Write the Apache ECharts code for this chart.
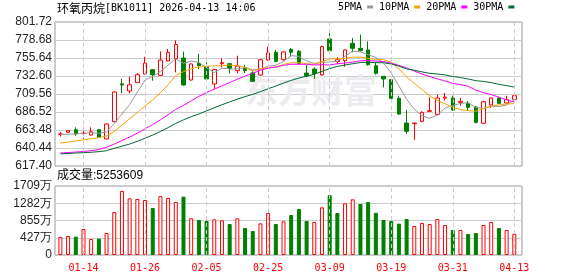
<!DOCTYPE html>
<html><head><meta charset="utf-8">
<script src="https://cdn.jsdelivr.net/npm/echarts@6/dist/echarts.min.js"></script>
<style>html,body{margin:0;padding:0;background:#fff}#c{width:578px;height:276px}</style>
</head><body><div id="c"></div>
<script>
const titleName = '环氧丙烷';
const titleInfo = '[BK1011] 2026-04-13 14:06';
const volumeText = '成交量:5253609';
const maNames = ['5PMA', '10PMA', '20PMA', '30PMA'];

const dates = ['01-09','01-12','01-13','01-14','01-15','01-16','01-19','01-20','01-21','01-22',
 '01-23','01-26','01-27','01-28','01-29','01-30','02-02','02-03','02-04','02-05',
 '02-06','02-09','02-10','02-11','02-12','02-13','02-24','02-25','02-26','02-27',
 '03-02','03-03','03-04','03-05','03-06','03-09','03-10','03-11','03-12','03-13',
 '03-16','03-17','03-18','03-19','03-20','03-23','03-24','03-25','03-26','03-27',
 '03-30','03-31','04-01','04-02','04-03','04-07','04-08','04-09','04-10','04-13'];

const opens = [657.9,660.5,663.9,658.8,657.1,663.9,652.0,674.1,722.6,713.4,
 724.1,735.2,740.7,733.4,751.8,754.8,755.6,727.5,748.8,744.5,
 722.4,748.4,748.4,739.4,743.3,736.4,733.9,753.1,762.9,753.5,
 766.5,764.2,736.4,741.6,733.9,780.0,751.0,752.2,774.4,768.0,
 765.9,745.8,732.2,727.9,704.0,672.4,671.6,674.6,687.4,683.5,
 704.4,704.4,698.9,697.6,692.9,672.0,695.5,704.0,698.1,702.7];
const closes = [658.4,662.6,658.4,659.5,661.3,654.5,671.2,712.1,721.0,721.4,
 734.3,749.2,734.3,753.0,762.9,772.9,721.1,748.0,745.8,728.8,
 741.1,749.7,742.4,745.4,739.4,725.8,753.5,762.0,751.4,763.5,
 763.0,748.8,733.0,735.8,770.1,765.0,753.5,765.9,768.0,765.0,
 747.1,736.0,728.8,704.0,683.9,661.8,672.4,686.1,688.2,704.4,
 705.7,689.1,700.2,692.5,673.3,699.7,704.4,697.6,702.3,707.4];
const lows = [655.0,660.0,656.2,652.0,656.2,654.1,651.5,673.3,710.8,710.4,
 723.6,734.7,726.6,733.0,751.4,737.3,720.2,726.6,741.6,727.9,
 715.9,743.7,736.0,736.0,736.4,725.3,733.0,752.2,750.1,752.2,
 757.3,748.0,730.9,728.8,733.0,764.2,747.5,744.5,762.9,764.2,
 745.8,734.3,718.1,703.1,683.1,658.4,651.0,673.3,687.0,682.7,
 701.0,688.2,694.6,688.2,672.0,671.2,691.6,696.8,697.6,701.9];
const highs = [660.9,663.0,666.9,667.7,666.9,664.7,672.0,713.0,728.8,731.7,
 736.4,757.3,741.6,764.2,767.2,778.2,763.8,748.8,760.8,750.1,
 741.6,755.2,748.8,758.6,747.1,739.4,754.4,770.1,765.9,764.2,
 768.5,765.9,746.7,743.7,771.4,787.5,756.5,766.7,781.2,785.5,
 777.0,750.1,732.6,728.8,707.4,689.1,672.8,687.4,705.3,708.7,
 710.8,707.4,704.4,700.6,694.2,701.0,705.3,706.1,707.4,708.7];

// volume in 万
const volumes = [446,470,454,644,396,405,545,1065,1585,1403,
 1387,1362,1164,1461,1412,1313,1445,910,867,842,
 883,859,768,908,669,594,784,1040,768,834,
 991,1139,842,817,1181,1486,1040,1280,1379,1263,
 1313,1044,867,842,776,892,718,793,768,892,
 743,619,619,520,545,743,817,669,619,525.36];

const ma5 = [657.5,658.0,658.5,659.3,660.0,659.3,661.0,671.7,684.0,696.0,
 712.0,727.6,732.0,738.4,746.7,754.5,748.8,751.6,750.1,743.3,
 737.0,742.7,741.6,741.5,743.6,740.5,741.3,745.2,746.4,751.2,
 758.7,757.7,751.9,748.8,750.1,750.5,751.5,758.1,764.5,763.5,
 759.9,756.4,749.0,736.2,720.0,702.9,690.2,681.6,678.5,682.6,
 691.4,694.7,697.5,698.4,692.2,691.0,694.0,693.5,695.5,702.3];
const ma10 = [646.8,648.0,649.5,651.0,652.3,653.6,656.0,661.5,670.0,678.0,
 685.6,694.3,701.9,711.2,721.4,733.2,738.2,741.8,744.3,745.0,
 745.7,745.8,746.6,745.8,743.5,738.8,742.0,743.4,744.0,747.4,
 749.6,749.5,748.6,747.6,750.7,754.6,754.6,755.0,756.7,756.8,
 755.2,753.9,753.5,750.3,741.7,731.4,723.3,715.3,707.3,701.3,
 697.1,692.4,689.6,688.4,687.4,691.2,694.4,695.5,696.9,697.2];
const ma20 = [634.0,634.6,635.3,636.0,637.0,638.5,641.5,645.5,650.0,654.5,
 659.5,665.0,670.5,676.5,683.0,690.0,695.0,700.8,706.6,711.5,
 715.7,720.0,724.2,728.5,732.4,736.0,740.1,742.6,744.1,746.2,
 747.7,747.6,747.6,746.7,747.1,746.7,748.3,749.2,750.3,752.1,
 752.4,751.7,751.1,749.0,746.2,743.0,739.0,735.2,732.0,729.0,
 726.2,723.2,721.6,719.4,714.5,711.3,708.8,705.4,702.1,699.2];
const ma30 = [633.0,633.5,634.0,634.5,635.0,635.8,637.0,640.0,642.8,645.5,
 649.0,653.0,657.0,661.5,666.5,672.0,676.5,680.5,684.0,688.0,
 692.0,695.8,699.5,703.0,706.2,709.2,712.6,716.3,719.8,723.5,
 727.0,729.9,732.3,734.9,738.5,742.2,744.9,746.7,748.3,749.8,
 750.2,749.7,749.6,747.9,745.3,741.6,740.0,737.9,736.0,735.2,
 734.0,732.0,730.6,728.8,726.6,725.7,724.1,721.9,720.3,718.4];

const priceTicks = ['617.40','640.44','663.48','686.52','709.56','732.60','755.64','778.68','801.72'];
const volTicks = ['0','427万','855万','1282万','1709万'];
const dateTicks = ['01-14','01-26','02-05','02-25','03-09','03-19','03-31','04-13'];

const UP = '#ff0000', DOWN = '#008000';
const maColors = ['#999999', '#f5a300', '#ff00ff', '#006b33'];

const candleData = dates.map((d, i) => [opens[i], closes[i], lows[i], highs[i]]);
const volData = volumes.map((v, i) => {
  const up = i === 0 || closes[i] >= closes[i - 1];
  return { value: v, itemStyle: up
    ? { color: '#ffffff', borderColor: UP, borderWidth: 1, borderType: 'solid', opacity: 1, decal: null }
    : { color: DOWN, borderColor: DOWN, borderWidth: 1, borderType: 'solid', opacity: 1, decal: null } };
});

const chart = echarts.init(document.getElementById('c'), null, { renderer: 'canvas' });
const dash = { color: '#cccccc', type: [4, 3], width: 1 };
const labelFont = { fontFamily: 'Liberation Sans, Arial', fontSize: 12, color: '#222' };

const option = {
  animation: false,
  backgroundColor: '#fff',
  aria: { enabled: false, decal: { show: false } },
  legend: {
    left: 338, top: 2, padding: 0, align: 'right', icon: 'rect',
    itemWidth: 6, itemHeight: 3, itemGap: 6, selectedMode: false,
    data: maNames,
    textStyle: { fontFamily: 'DejaVu Sans Mono', fontSize: 10, color: '#000' }
  },
  graphic: [
    { type: 'text', left: 57, top: 2, silent: true,
      style: { text: '{a|' + titleName + '}{b|' + titleInfo + '}',
        rich: { a: { fontFamily: 'Noto Sans CJK SC', fontSize: 12, fill: '#000' },
                b: { fontFamily: 'DejaVu Sans Mono', fontSize: 10, fill: '#000' } } } },
    { type: 'text', left: 57, top: 170, silent: true,
      style: { text: volumeText, fontFamily: 'Liberation Sans, Noto Sans CJK SC', fontSize: 12, fill: '#000' } },
    { type: 'text', left: 245, top: 74, z: 1, silent: true,
      style: { text: '东方财富', fontFamily: 'Noto Sans CJK SC', fontWeight: 'bold', fontSize: 33, fill: '#ececf0' } }
  ],
  grid: [
    { left: 55, top: 22, width: 467, height: 144, show: true, borderColor: '#999', borderWidth: 1, backgroundColor: 'transparent', outerBoundsMode: 'none' },
    { left: 56.55, top: 22, width: 461.6, height: 144, outerBoundsMode: 'none' },
    { left: 55, top: 186, width: 467, height: 69, show: true, borderColor: '#999', borderWidth: 1, backgroundColor: 'transparent', outerBoundsMode: 'none' },
    { left: 56.55, top: 186, width: 461.6, height: 69, outerBoundsMode: 'none' }
  ],
  xAxis: [
    { gridIndex: 0, type: 'category', data: dates, show: false },
    { gridIndex: 1, type: 'category', data: dates, show: false, boundaryGap: true },
    { gridIndex: 2, type: 'category', data: dates, show: false },
    { gridIndex: 3, type: 'category', data: dates, boundaryGap: true,
      axisLine: { show: false }, axisTick: { show: false }, splitLine: { show: false },
      axisLabel: { interval: (i, v) => dateTicks.includes(v), color: '#ff0000', fontFamily: 'DejaVu Sans Mono', fontSize: 10, margin: 8, hideOverlap: false } }
  ],
  yAxis: [
    { gridIndex: 0, type: 'value', min: 0, max: 8, interval: 1,
      axisLine: { show: false }, axisTick: { show: false },
      axisLabel: Object.assign({ formatter: v => priceTicks[v], margin: 3 }, labelFont),
      splitLine: { lineStyle: { color: '#cccccc', width: 1 } } },
    { gridIndex: 1, type: 'value', min: 617.40, max: 801.72, show: false, splitLine: { show: false } },
    { gridIndex: 2, type: 'value', min: 0, max: 4, interval: 1,
      axisLine: { show: false }, axisTick: { show: false },
      axisLabel: Object.assign({ formatter: v => volTicks[v], margin: 3 }, labelFont),
      splitLine: { lineStyle: { color: '#cccccc', width: 1 } } },
    { gridIndex: 3, type: 'value', min: 0, max: 1709, show: false, splitLine: { show: false } }
  ],
  series: [
    { type: 'line', xAxisIndex: 1, yAxisIndex: 1, data: [], z: 1, silent: true,
      markLine: { symbol: 'none', silent: true, animation: false, label: { show: false }, lineStyle: dash,
        data: dateTicks.map(d => ({ xAxis: d })) } },
    { type: 'line', xAxisIndex: 3, yAxisIndex: 3, data: [], z: 1, silent: true,
      markLine: { symbol: 'none', silent: true, animation: false, label: { show: false }, lineStyle: dash,
        data: dateTicks.map(d => ({ xAxis: d })) } },
    { type: 'candlestick', xAxisIndex: 1, yAxisIndex: 1, data: candleData, barWidth: 4,
      itemStyle: { color: '#fff', color0: DOWN, borderColor: UP, borderColor0: DOWN, borderWidth: 1 } },
    ...[ma5, ma10, ma20, ma30].map((arr, k) => ({
      type: 'line', name: maNames[k], xAxisIndex: 1, yAxisIndex: 1, data: arr,
      symbol: 'none', showSymbol: false, smooth: false,
      lineStyle: { width: 1, color: maColors[k] }, itemStyle: { color: maColors[k] }, z: 3
    })),
    { type: 'bar', xAxisIndex: 3, yAxisIndex: 3, data: volData, barWidth: 4, z: 2, large: false,
      itemStyle: { decal: null } }
  ]
};
chart.setOption(option);
</script>
</body></html>
